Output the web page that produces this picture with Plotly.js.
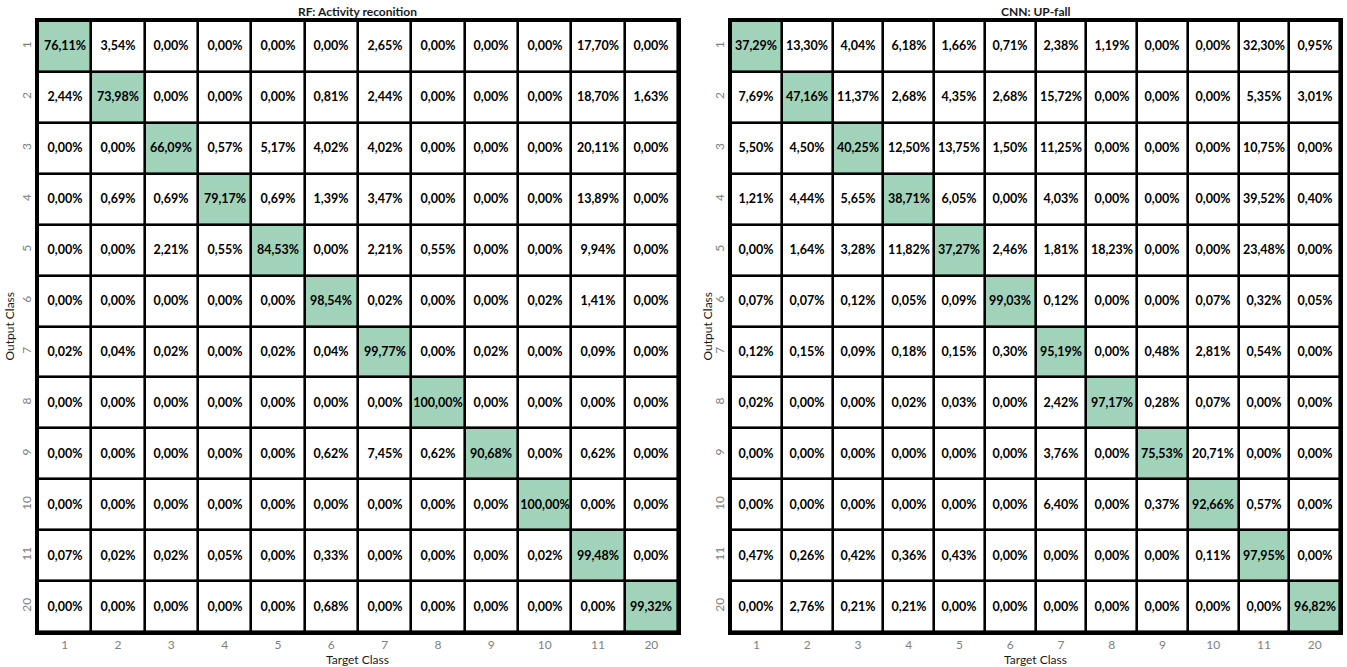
<!DOCTYPE html>
<html>
<head>
<meta charset="utf-8">
<script src="https://cdn.plot.ly/plotly-3.0.1.min.js"></script>
<style>html,body{margin:0;padding:0;background:#fff;}#chart{width:1347px;height:667px;}</style>
</head>
<body>
<div id="chart"></div>
<script>
const classLabels = ['1','2','3','4','5','6','7','8','9','10','11','20'];

const titleLeft = 'RF: Activity reconition';
const titleRight = 'CNN: UP-fall';
const xAxisTitle = 'Target Class';
const yAxisTitle = 'Output Class';

const rfValues = [
  [76.11, 3.54, 0, 0, 0, 0, 2.65, 0, 0, 0, 17.70, 0],
  [2.44, 73.98, 0, 0, 0, 0.81, 2.44, 0, 0, 0, 18.70, 1.63],
  [0, 0, 66.09, 0.57, 5.17, 4.02, 4.02, 0, 0, 0, 20.11, 0],
  [0, 0.69, 0.69, 79.17, 0.69, 1.39, 3.47, 0, 0, 0, 13.89, 0],
  [0, 0, 2.21, 0.55, 84.53, 0, 2.21, 0.55, 0, 0, 9.94, 0],
  [0, 0, 0, 0, 0, 98.54, 0.02, 0, 0, 0.02, 1.41, 0],
  [0.02, 0.04, 0.02, 0, 0.02, 0.04, 99.77, 0, 0.02, 0, 0.09, 0],
  [0, 0, 0, 0, 0, 0, 0, 100.00, 0, 0, 0, 0],
  [0, 0, 0, 0, 0, 0.62, 7.45, 0.62, 90.68, 0, 0.62, 0],
  [0, 0, 0, 0, 0, 0, 0, 0, 0, 100.00, 0, 0],
  [0.07, 0.02, 0.02, 0.05, 0, 0.33, 0, 0, 0, 0.02, 99.48, 0],
  [0, 0, 0, 0, 0, 0.68, 0, 0, 0, 0, 0, 99.32]
];

const cnnValues = [
  [37.29, 13.30, 4.04, 6.18, 1.66, 0.71, 2.38, 1.19, 0, 0, 32.30, 0.95],
  [7.69, 47.16, 11.37, 2.68, 4.35, 2.68, 15.72, 0, 0, 0, 5.35, 3.01],
  [5.50, 4.50, 40.25, 12.50, 13.75, 1.50, 11.25, 0, 0, 0, 10.75, 0],
  [1.21, 4.44, 5.65, 38.71, 6.05, 0, 4.03, 0, 0, 0, 39.52, 0.40],
  [0, 1.64, 3.28, 11.82, 37.27, 2.46, 1.81, 18.23, 0, 0, 23.48, 0],
  [0.07, 0.07, 0.12, 0.05, 0.09, 99.03, 0.12, 0, 0, 0.07, 0.32, 0.05],
  [0.12, 0.15, 0.09, 0.18, 0.15, 0.30, 95.19, 0, 0.48, 2.81, 0.54, 0],
  [0.02, 0, 0, 0.02, 0.03, 0, 2.42, 97.17, 0.28, 0.07, 0, 0],
  [0, 0, 0, 0, 0, 0, 3.76, 0, 75.53, 20.71, 0, 0],
  [0, 0, 0, 0, 0, 0, 6.40, 0, 0.37, 92.66, 0.57, 0],
  [0.47, 0.26, 0.42, 0.36, 0.43, 0, 0, 0, 0, 0.11, 97.95, 0],
  [0, 2.76, 0.21, 0.21, 0, 0, 0, 0, 0, 0, 0, 96.82]
];

const fmt = v => v.toFixed(2).replace('.', ',') + '%';
const diagMask = m => m.map((row, i) => row.map((_, j) => (i === j ? 1 : 0)));
const textOf = m => m.map(row => row.map(fmt));

const FONT = 'Lato, "Open Sans", sans-serif';
const green = '#a0d3ba';

function hm(values, xa, ya) {
  return {
    type: 'heatmap',
    x: classLabels,
    y: classLabels,
    z: diagMask(values),
    text: textOf(values),
    texttemplate: '%{text}',
    textfont: {family: FONT, size: 12.5, color: '#000', weight: 700},
    colorscale: [[0, '#ffffff'], [1, green]],
    zmin: 0, zmax: 1,
    showscale: false,
    xgap: 2.6, ygap: 2.6,
    hoverinfo: 'skip',
    xaxis: xa, yaxis: ya
  };
}

const W = 1347, H = 667;
const gridTop = 21, gridBottom = 632;
const yDom = [1 - gridBottom / H, 1 - gridTop / H];

const xCommon = {
  type: 'category', showgrid: false, zeroline: false, ticks: '',
  showline: true, mirror: true, linecolor: '#000', linewidth: 2.6,
  tickfont: {family: FONT, size: 12, color: '#7f7f7f'}, fixedrange: true
};
const yCommon = Object.assign({}, xCommon, {autorange: 'reversed', tickangle: -90});

function ann(text, x, y, angle, size) {
  return {text: text, x: x, y: y, xref: 'paper', yref: 'paper', xanchor: 'center', yanchor: 'middle',
          showarrow: false, textangle: angle || 0, font: {family: FONT, size: size || 12, color: '#1a1a1a'}};
}

const layout = {
  width: W, height: H,
  margin: {l: 0, r: 0, t: 0, b: 0},
  paper_bgcolor: '#ffffff',
  plot_bgcolor: '#000000',
  showlegend: false,
  xaxis: Object.assign({}, xCommon, {domain: [38 / W, 678 / W], anchor: 'y'}),
  yaxis: Object.assign({}, yCommon, {domain: yDom, anchor: 'x'}),
  xaxis2: Object.assign({}, xCommon, {domain: [731 / W, 1340 / W], anchor: 'y2'}),
  yaxis2: Object.assign({}, yCommon, {domain: yDom, anchor: 'x2'}),
  annotations: [
    ann('<b>' + titleLeft + '</b>', (38 + 678) / 2 / W, 1 - 11 / H),
    ann('<b>' + titleRight + '</b>', (731 + 1340) / 2 / W, 1 - 11 / H),
    ann(xAxisTitle, (38 + 678) / 2 / W, 1 - 659 / H),
    ann(xAxisTitle, (731 + 1340) / 2 / W, 1 - 659 / H),
    ann(yAxisTitle, 9 / W, (yDom[0] + yDom[1]) / 2, -90),
    ann(yAxisTitle, 707 / W, (yDom[0] + yDom[1]) / 2, -90)
  ]
};

Plotly.newPlot('chart', [hm(rfValues, 'x', 'y'), hm(cnnValues, 'x2', 'y2')], layout, {displayModeBar: false, staticPlot: true});
</script>
</body>
</html>
